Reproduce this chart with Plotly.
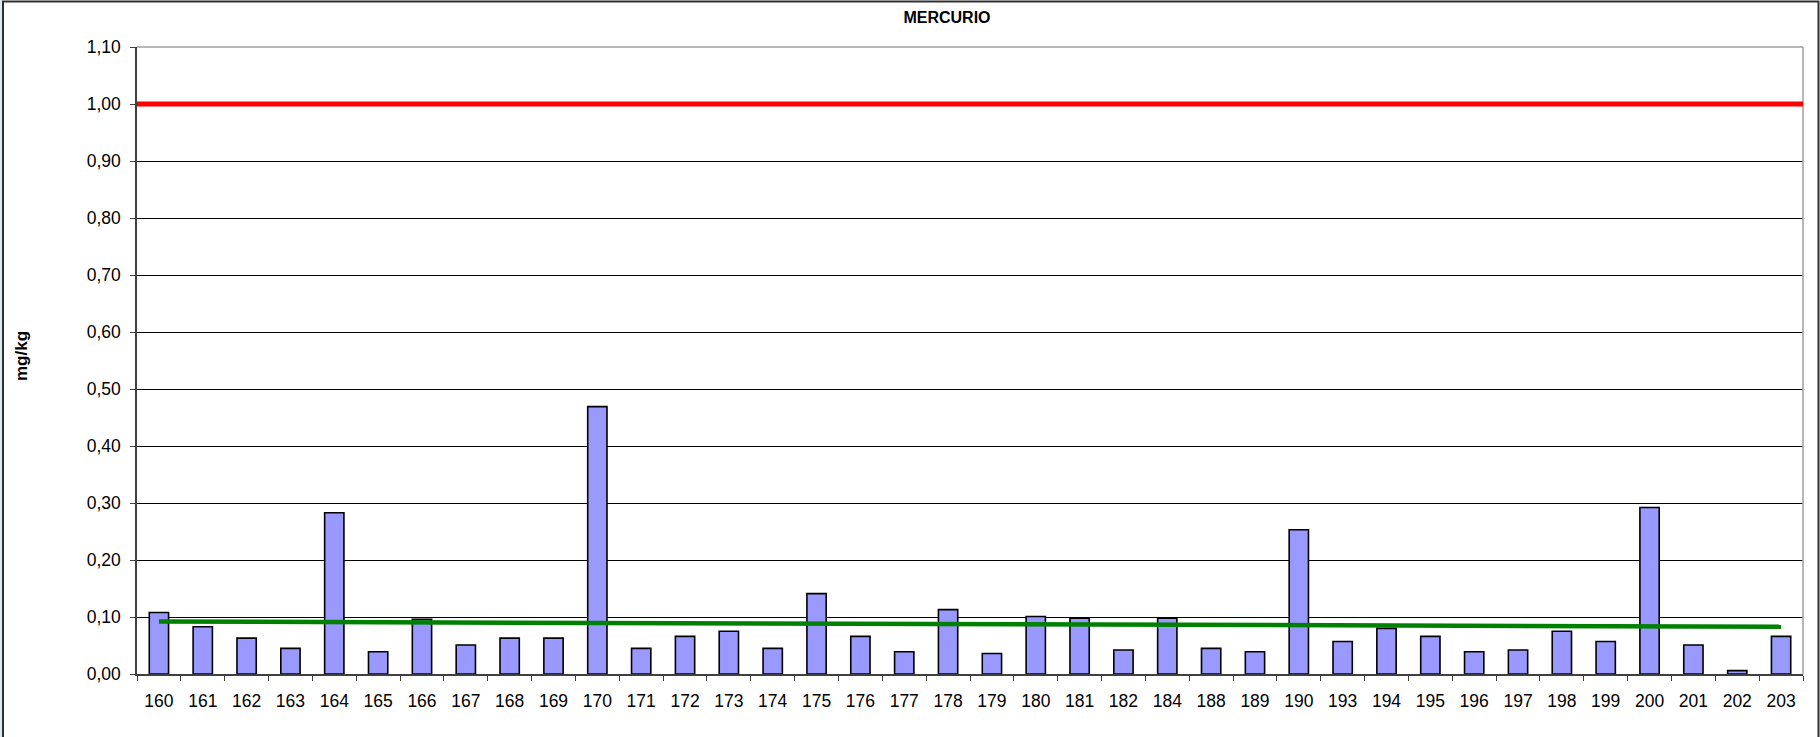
import plotly.graph_objects as go

categories = ["160", "161", "162", "163", "164", "165", "166", "167", "168", "169",
              "170", "171", "172", "173", "174", "175", "176", "177", "178", "179",
              "180", "181", "182", "184", "188", "189", "190", "193", "194", "195",
              "196", "197", "198", "199", "200", "201", "202", "203"]
mercurio = [0.108, 0.083, 0.063, 0.045, 0.283, 0.039, 0.096, 0.051, 0.063, 0.063,
            0.469, 0.045, 0.066, 0.075, 0.045, 0.141, 0.066, 0.039, 0.113, 0.036,
            0.101, 0.098, 0.042, 0.098, 0.045, 0.039, 0.253, 0.057, 0.080, 0.066,
            0.039, 0.042, 0.075, 0.057, 0.292, 0.051, 0.006, 0.066]
trend_x = ["160", "203"]
trend_y = [0.092, 0.083]
limit_value = 1.00
y_ticks = [0.0, 0.1, 0.2, 0.3, 0.4, 0.5, 0.6, 0.7, 0.8, 0.9, 1.0, 1.1]

W, H = 1820, 737
L, R, T, B = 137, 17, 47, 63
PW = W - L - R
PH = H - T - B

def px_x(px):
    return (px - L) / PW

def px_y(py):
    return (H - B - py) / PH

FONT = "Liberation Sans, Arial, sans-serif"

fig = go.Figure()
fig.add_trace(go.Bar(
    x=categories, y=mercurio,
    marker=dict(color="#9999FF", line=dict(color="#000000", width=1.6)),
    showlegend=False, hoverinfo="x+y",
))
fig.add_trace(go.Scatter(
    x=trend_x, y=trend_y, mode="lines",
    line=dict(color="#008000", width=4.5),
    showlegend=False,
))

shapes = [
    dict(type="rect", xref="paper", yref="paper",
         x0=px_x(0), x1=px_x(2.5), y0=px_y(745), y1=px_y(0),
         fillcolor="#D8ECEC", line=dict(width=0), layer="below"),
    dict(type="rect", xref="paper", yref="paper",
         x0=px_x(3), x1=px_x(1818.5), y0=px_y(745), y1=px_y(1.5),
         fillcolor="rgba(0,0,0,0)", line=dict(color="#303030", width=2)),
    dict(type="line", xref="paper", yref="paper",
         x0=0, x1=1, y0=1, y1=1, line=dict(color="#A0A0A0", width=1.5)),
    dict(type="line", xref="paper", yref="paper",
         x0=1, x1=1, y0=0, y1=1, line=dict(color="#A0A0A0", width=1.5)),
    dict(type="line", xref="paper", yref="y",
         x0=0, x1=1, y0=limit_value, y1=limit_value,
         line=dict(color="#FF0000", width=5)),
]

fig.update_layout(
    width=W, height=H,
    margin=dict(l=L, r=R, t=T, b=B, pad=0),
    paper_bgcolor="white", plot_bgcolor="white",
    separators=",.",
    bargap=0.56,
    font=dict(family=FONT, color="#000000", size=17.5),
    title=dict(text="<b>MERCURIO</b>", x=947 / W, xref="container", xanchor="center",
               y=1 - 17 / H, yref="container", yanchor="middle",
               font=dict(family=FONT, size=16, color="#000000")),
    shapes=shapes,
    annotations=[dict(text="<b>mg/kg</b>", xref="paper", yref="paper",
                      x=px_x(21), y=px_y(356), xanchor="center", yanchor="middle",
                      textangle=-90, showarrow=False,
                      font=dict(family=FONT, size=17, color="#000000"))],
    xaxis=dict(
        type="category", categoryorder="array", categoryarray=categories,
        range=[-0.5, len(categories) - 0.5],
        showgrid=False, zeroline=False,
        showline=True, linecolor="#404040", linewidth=1.5,
        ticks="outside", tickson="boundaries", ticklen=5, tickcolor="#404040", tickwidth=1,
        tickfont=dict(family=FONT, size=17.5, color="#000000"),
        ticklabelstandoff=10,
    ),
    yaxis=dict(
        range=[0, 1.1], tickvals=y_ticks, tickformat=".2f",
        showgrid=True, gridcolor="#000000", gridwidth=1,
        zeroline=False,
        showline=True, linecolor="#404040", linewidth=1.5,
        ticks="outside", ticklen=5, tickcolor="#404040", tickwidth=1,
        tickfont=dict(family=FONT, size=17.5, color="#000000"),
        ticklabelstandoff=6,
    ),
)

fig.write_html("out.html",
               config={"displayModeBar": False},
               post_script="document.body.style.margin='0';document.body.style.overflow='hidden';")
